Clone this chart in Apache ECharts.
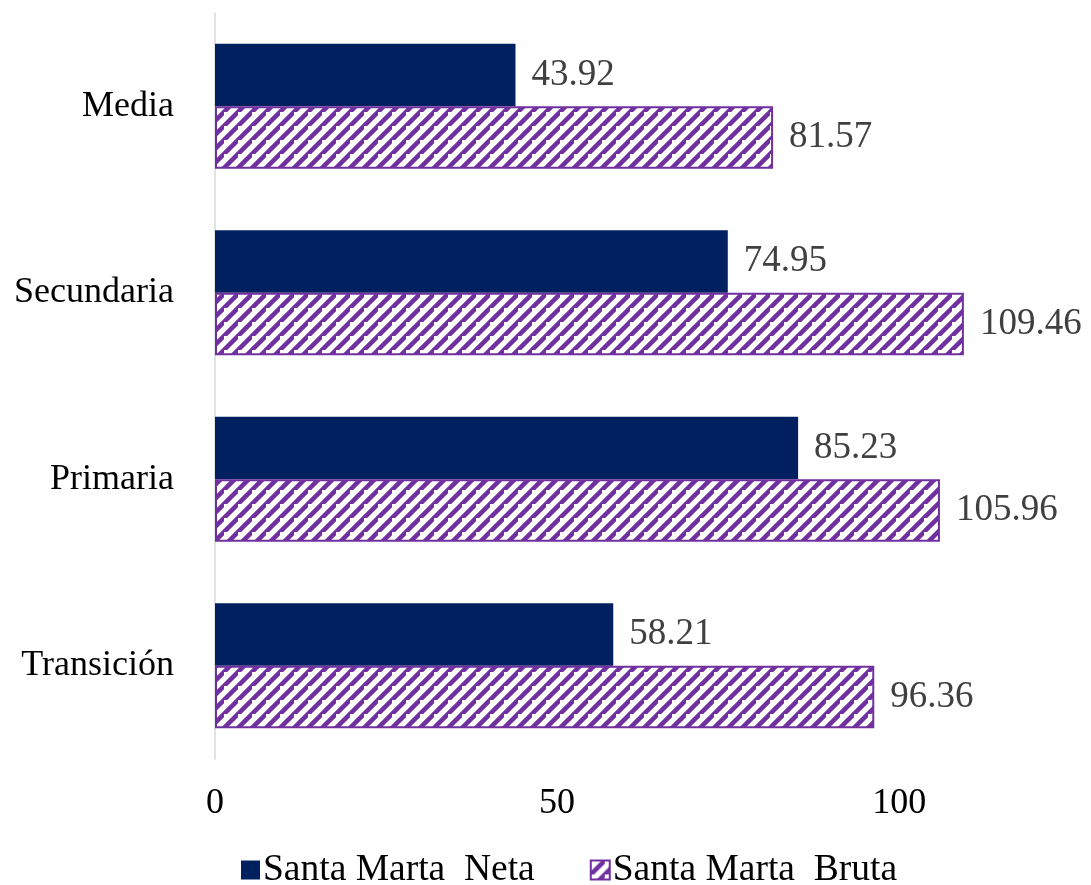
<!DOCTYPE html>
<html>
<head>
<meta charset="utf-8">
<script src="https://cdn.jsdelivr.net/npm/echarts@6/dist/echarts.min.js"></script>
<style>
  html, body { margin: 0; padding: 0; background: #fff; }
  #chart { width: 1091px; height: 885px; }
</style>
</head>
<body>
<div id="chart"></div>
<script>
const categories = ['Media', 'Secundaria', 'Primaria', 'Transición'];
const netaValues = [43.92, 74.95, 85.23, 58.21];
const brutaValues = [81.57, 109.46, 105.96, 96.36];
const seriesNames = ['Santa Marta  Neta', 'Santa Marta  Bruta'];

// diagonal hatch for the "Bruta" bars
function hatchPattern(color) {
    const size = 14;
    const c = document.createElement('canvas');
    c.width = size; c.height = size;
    const ctx = c.getContext('2d');
    ctx.fillStyle = '#fff';
    ctx.fillRect(0, 0, size, size);
    ctx.strokeStyle = color;
    ctx.lineWidth = 4.5;
    ctx.beginPath();
    ctx.moveTo(-size, size * 2); ctx.lineTo(size * 2, -size);
    ctx.moveTo(-size * 2, size); ctx.lineTo(size, -size * 2);
    ctx.moveTo(0, size * 2); ctx.lineTo(size * 2, 0);
    ctx.stroke();
    return c;
}

const chart = echarts.init(document.getElementById('chart'));
const font = '"Liberation Serif", "Times New Roman", serif';
const purple = '#7030A0';
const valueLabel = { show: true, position: 'right', distance: 16, fontSize: 37, color: '#404040', fontFamily: font };

chart.setOption({
    animation: false,
    textStyle: { fontFamily: font },
    grid: { left: 215, right: 55, top: 13, bottom: 126 },
    legend: {
        top: 846,
        left: 236,
        itemWidth: 19,
        itemHeight: 19,
        itemGap: 55,
        icon: 'rect',
        textStyle: { fontSize: 37.5, color: '#000', fontFamily: font, padding: [0, 0, 0, -2] },
        data: seriesNames
    },
    xAxis: {
        type: 'value',
        min: 0,
        max: 120,
        interval: 50,
        axisLine: { show: false },
        axisTick: { show: false },
        splitLine: { show: false },
        axisLabel: { showMaxLabel: false, fontSize: 36, color: '#000', margin: 27, fontFamily: font }
    },
    yAxis: {
        type: 'category',
        inverse: true,
        data: categories,
        axisLine: { lineStyle: { color: '#d9d9d9', width: 1.5 } },
        axisTick: { show: false },
        axisLabel: { fontSize: 36, color: '#000', margin: 41, fontFamily: font }
    },
    series: [
        {
            name: seriesNames[0],
            type: 'bar',
            data: netaValues,
            barGap: '0%',
            barCategoryGap: '33%',
            itemStyle: { color: '#002060' },
            label: valueLabel
        },
        {
            name: seriesNames[1],
            type: 'bar',
            data: brutaValues,
            barGap: '0%',
            barCategoryGap: '33%',
            itemStyle: {
                color: { image: hatchPattern(purple), repeat: 'repeat' },
                borderColor: purple,
                borderWidth: 2
            },
            label: valueLabel
        }
    ]
});
</script>
</body>
</html>
